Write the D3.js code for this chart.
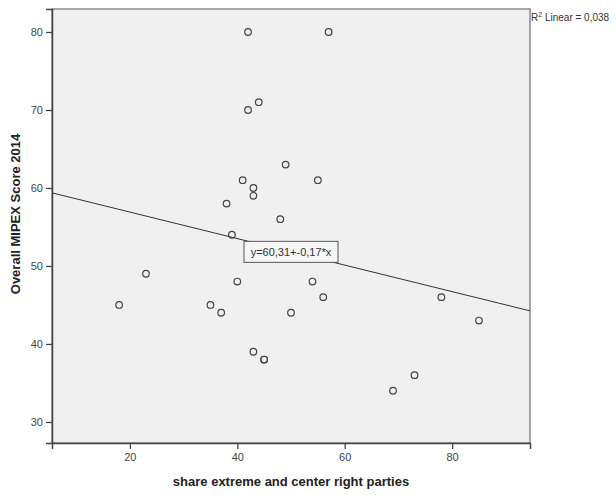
<!DOCTYPE html>
<html>
<head>
<meta charset="utf-8">
<script src="https://cdn.jsdelivr.net/npm/d3@7"></script>
<style>
  body { margin: 0; background: #fff; }
  svg { display: block; font-family: "Liberation Sans", Arial, sans-serif; }
</style>
</head>
<body>
<svg id="chart" width="616" height="495"></svg>
<script>
// share extreme and center right parties (x) vs overall MIPEX score 2014 (y)
const shareRight = [42, 57, 44, 42, 49, 41, 55, 43, 43, 38, 48, 39, 23, 40, 54, 18, 35, 56, 78, 37, 50, 85, 43, 45, 45, 73, 69];
const mipexScore = [80, 80, 71, 70, 63, 61, 61, 60, 59, 58, 56, 54, 49, 48, 48, 45, 45, 46, 46, 44, 44, 43, 39, 38, 38, 36, 34];
const xTicks = [20, 40, 60, 80];
const yTicks = [30, 40, 50, 60, 70, 80];
const fitIntercept = 60.31;
const fitSlope = -0.17;
const rSquared = '0,038';

const PLOT = {left: 52, right: 530, top: 9, bottom: 443};

const svg = d3.select('#chart');

const x = d3.scaleLinear().domain([5.5, 94.5]).range([PLOT.left, PLOT.right]);
const y = d3.scaleLinear().domain([27.3, 82.95]).range([PLOT.bottom, PLOT.top]);

svg.append('rect')
  .attr('x', PLOT.left)
  .attr('y', PLOT.top)
  .attr('width', PLOT.right - PLOT.left)
  .attr('height', PLOT.bottom - PLOT.top)
  .attr('fill', '#f0f0f0')
  .attr('stroke', '#8a8a8a')
  .attr('stroke-width', 1.5);

const plot = svg.append('g');

// regression line
const fit = v => fitIntercept + fitSlope * v;
const xd = x.domain();
plot.append('line')
  .attr('x1', x(xd[0])).attr('y1', y(fit(xd[0])))
  .attr('x2', x(xd[1])).attr('y2', y(fit(xd[1])))
  .attr('stroke', '#333')
  .attr('stroke-width', 1);

const points = shareRight.map((v, i) => ({x: v, y: mipexScore[i]}));

plot.selectAll('circle')
  .data(points)
  .enter().append('circle')
    .attr('cx', d => x(d.x))
    .attr('cy', d => y(d.y))
    .attr('r', 3.3)
    .attr('fill', 'none')
    .attr('stroke', '#444')
    .attr('stroke-width', 1.2);

// equation label on the line
const labelX = 50;
const label = plot.append('g')
  .attr('transform', `translate(${x(labelX)}, ${y(fit(labelX))})`);
label.append('rect')
  .attr('x', -47).attr('y', -10.5)
  .attr('width', 94).attr('height', 21)
  .attr('fill', '#f6f6f6')
  .attr('stroke', '#555')
  .attr('stroke-width', 1);
label.append('text')
  .attr('text-anchor', 'middle')
  .attr('dy', '0.35em')
  .attr('font-size', 11)
  .attr('fill', '#333')
  .text(`y=${String(fitIntercept).replace('.', ',')}+-${String(-fitSlope).replace('.', ',')}*x`);

// axes
const xAxis = svg.append('g')
  .attr('transform', `translate(0, ${PLOT.bottom})`)
  .call(d3.axisBottom(x).tickValues(xTicks).tickSize(6).tickPadding(4));

const yAxis = svg.append('g')
  .attr('transform', `translate(${PLOT.left}, 0)`)
  .call(d3.axisLeft(y).tickValues(yTicks).tickSize(6).tickPadding(3));

[xAxis, yAxis].forEach(a => {
  a.select('.domain').attr('stroke', '#444').attr('stroke-width', 1.5);
  a.selectAll('.tick line').attr('stroke', '#444').attr('stroke-width', 1.3);
  a.selectAll('.tick text')
    .attr('fill', '#444')
    .attr('font-size', 11)
    .attr('font-family', '"Liberation Sans", Arial, sans-serif');
});

// titles
svg.append('text')
  .attr('x', (PLOT.left + PLOT.right) / 2)
  .attr('y', 486)
  .attr('text-anchor', 'middle')
  .attr('font-size', 13)
  .attr('font-weight', 'bold')
  .attr('fill', '#222')
  .text('share extreme and center right parties');

svg.append('text')
  .attr('transform', 'translate(20, 214) rotate(-90)')
  .attr('text-anchor', 'middle')
  .attr('font-size', 13)
  .attr('font-weight', 'bold')
  .attr('fill', '#222')
  .text('Overall MIPEX Score 2014');

const r2 = svg.append('text')
  .attr('x', PLOT.right + 1)
  .attr('y', 21)
  .attr('font-size', 10)
  .attr('fill', '#333');
r2.append('tspan').text('R');
r2.append('tspan').attr('font-size', 7).attr('dy', -4).text('2');
r2.append('tspan').attr('dy', 4).text(` Linear = ${rSquared}`);
</script>
</body>
</html>
